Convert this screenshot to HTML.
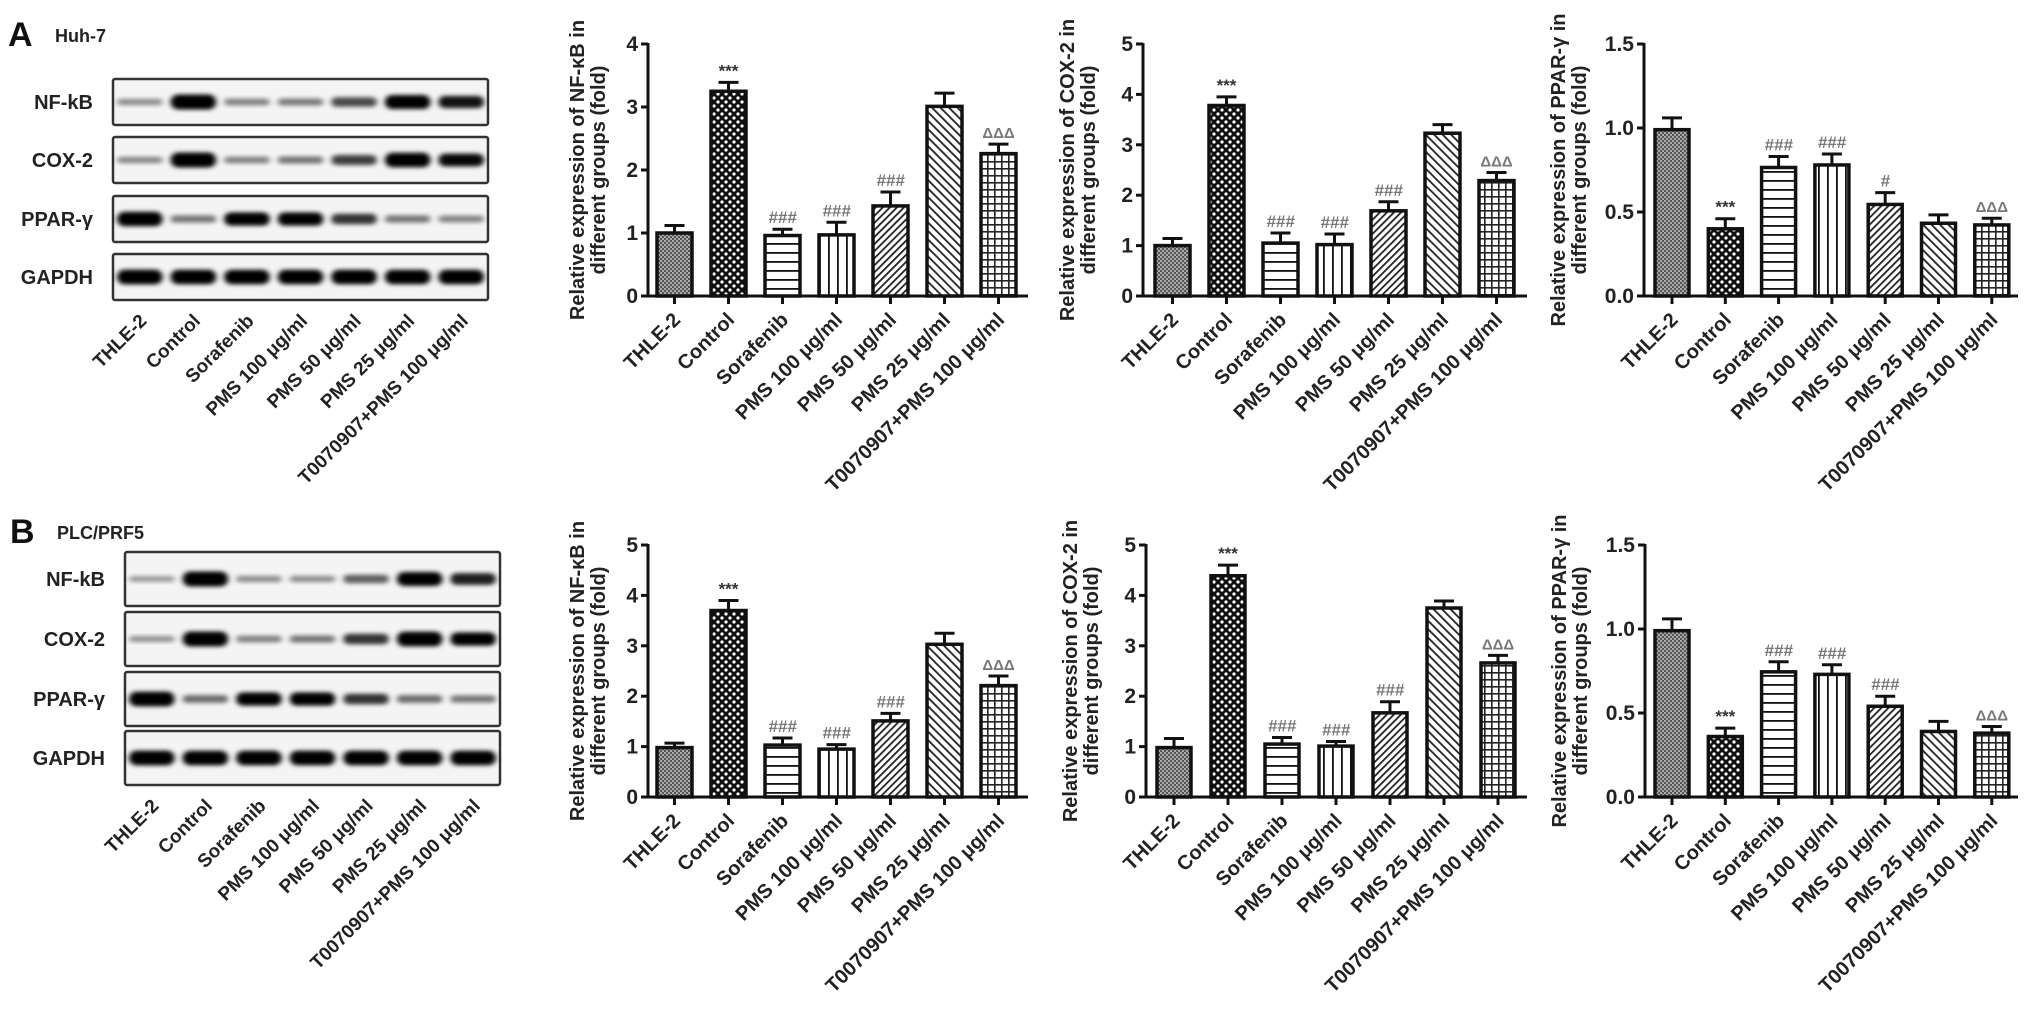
<!DOCTYPE html>
<html><head><meta charset="utf-8"><style>
html,body{margin:0;padding:0;background:#fff;}
svg{display:block;font-family:"Liberation Sans",Arial,sans-serif;}
</style></head><body>
<svg id="fig" width="2031" height="1011" viewBox="0 0 2031 1011" xmlns="http://www.w3.org/2000/svg">
<defs>
 <filter id="blur" x="-20%" y="-50%" width="140%" height="200%"><feGaussianBlur stdDeviation="3 2.2"/></filter>
 <pattern id="p0" patternUnits="userSpaceOnUse" width="4" height="4"><rect width="4" height="4" fill="#555"/><rect x="0" y="0" width="2" height="2" fill="#aaa"/><rect x="2" y="2" width="2" height="2" fill="#aaa"/></pattern>
 <pattern id="p1" patternUnits="userSpaceOnUse" width="8" height="8"><rect width="8" height="8" fill="#111"/><circle cx="2" cy="2" r="1.6" fill="#fff"/><circle cx="6" cy="6" r="1.6" fill="#fff"/></pattern>
 <pattern id="p2" patternUnits="userSpaceOnUse" width="8" height="9"><rect width="8" height="9" fill="#fff"/><rect y="0" width="8" height="1.8" fill="#111"/></pattern>
 <pattern id="p3" patternUnits="userSpaceOnUse" width="9" height="8"><rect width="9" height="8" fill="#fff"/><rect x="0" width="1.8" height="8" fill="#111"/></pattern>
 <pattern id="p4" patternUnits="userSpaceOnUse" width="5" height="5" patternTransform="rotate(45)"><rect width="5" height="5" fill="#fff"/><rect width="1.8" height="5" fill="#222"/></pattern>
 <pattern id="p5" patternUnits="userSpaceOnUse" width="6" height="6" patternTransform="rotate(-45)"><rect width="6" height="6" fill="#fff"/><rect width="1.8" height="6" fill="#222"/></pattern>
 <pattern id="p6" patternUnits="userSpaceOnUse" width="7" height="7"><rect width="7" height="7" fill="#fff"/><rect width="7" height="1.6" fill="#222"/><rect width="1.6" height="7" fill="#222"/></pattern>
</defs>
<g id="root"></g>
</svg>
<script>
const categories = ["THLE-2","Control","Sorafenib","PMS 100 μg/ml","PMS 50 μg/ml","PMS 25 μg/ml","T0070907+PMS 100 μg/ml"];
// Panel A (Huh-7)
const nfkbA = [1.0,3.25,0.96,0.97,1.43,3.01,2.26];
const nfkbAErr = [0.12,0.14,0.1,0.2,0.22,0.21,0.15];
const coxA = [1.0,3.78,1.05,1.02,1.69,3.23,2.29];
const coxAErr = [0.14,0.17,0.2,0.21,0.18,0.17,0.16];
const pparA = [0.99,0.40,0.765,0.78,0.545,0.433,0.423];
const pparAErr = [0.07,0.06,0.065,0.065,0.07,0.05,0.04];
// Panel B (PLC/PRF5)
const nfkbB = [0.98,3.7,1.03,0.95,1.51,3.03,2.21];
const nfkbBErr = [0.09,0.2,0.14,0.09,0.15,0.22,0.19];
const coxB = [0.98,4.39,1.05,1.01,1.67,3.75,2.66];
const coxBErr = [0.18,0.21,0.13,0.09,0.22,0.14,0.15];
const pparB = [0.99,0.36,0.745,0.73,0.54,0.39,0.38];
const pparBErr = [0.07,0.05,0.06,0.057,0.06,0.06,0.04];
const marksNF = ["","***","###","###","###","","ΔΔΔ"];
const marksCOX = ["","***","###","###","###","","ΔΔΔ"];
const marksPPAR_A = ["","***","###","###","#","","ΔΔΔ"];
const marksPPAR_B = ["","***","###","###","###","","ΔΔΔ"];
const ticks5 = [0,1,2,3,4,5];
const ticks4 = [0,1,2,3,4];
const ticksP = [0,0.5,1.0,1.5];
const ticksPLabels = ["0.0","0.5","1.0","1.5"];
const blotRowsLabels = ["NF-kB","COX-2","PPAR-γ","GAPDH"];
const blotA = [[0.2,1,0.25,0.28,0.5,0.92,0.75],[0.22,1,0.25,0.3,0.55,0.95,0.8],[0.95,0.3,0.85,0.85,0.6,0.3,0.25],[0.97,0.95,0.95,0.95,0.95,0.95,0.95]];
const blotB = [[0.15,1,0.2,0.2,0.4,0.9,0.7],[0.18,1,0.25,0.3,0.6,0.98,0.85],[0.97,0.35,0.85,0.85,0.6,0.35,0.3],[0.97,0.95,0.95,0.95,0.95,0.95,0.95]];

const NS="http://www.w3.org/2000/svg";
const root=document.getElementById('root');
function el(tag,attrs,parent,txt){const e=document.createElementNS(NS,tag);for(const k in attrs)e.setAttribute(k,attrs[k]);if(txt!==undefined)e.textContent=txt;(parent||root).appendChild(e);return e;}

function chart(cfg){
  const g=el('g',{});
  
  
  const ys=v=>cfg.y0-(v-cfg.min)/(cfg.max-cfg.min)*(cfg.y0-cfg.ytop);
  const xs=i=>cfg.bx+i*cfg.step;
  const ya=el('line',{x1:cfg.ax,y1:cfg.ytop-1,x2:cfg.ax,y2:cfg.y0+1.5,stroke:'#111','stroke-width':3},g);
  
  
  const xa=el('line',{x1:cfg.ax-1.5,y1:cfg.y0,x2:cfg.xend,y2:cfg.y0,stroke:'#111','stroke-width':3},g);
  
  
  cfg.ticks.forEach((t,i)=>{
    const y=ys(t);
    el('line',{x1:cfg.ax-7,y1:y,x2:cfg.ax,y2:y,stroke:'#111','stroke-width':3},g);
    const tl=el('text',{x:cfg.ax-10,y:y+7,'text-anchor':'end','font-size':21,'font-weight':'bold',fill:'#222'},g,cfg.tickLabels?cfg.tickLabels[i]:String(t));
    
    
  });
  const tx=cfg.ax-cfg.titleOff, ty=(cfg.ytop+cfg.y0)/2+(cfg.titleDy||0);
  const t1=el('text',{x:tx,y:ty,'text-anchor':'middle','font-size':20,'font-weight':'bold',fill:'#222',transform:`rotate(-90 ${tx} ${ty})`},g,cfg.title1);
  
  
  const t2=el('text',{x:tx+21,y:ty,'text-anchor':'middle','font-size':20,'font-weight':'bold',fill:'#222',transform:`rotate(-90 ${tx+21} ${ty})`},g,"different groups (fold)");
  
  
  cfg.values.forEach((v,i)=>{
    const x=xs(i), topY=ys(v), cx=x+cfg.bw/2, et=ys(v+cfg.errs[i]);
    el('line',{x1:cx,y1:topY,x2:cx,y2:et,stroke:'#111','stroke-width':3},g);
    el('line',{x1:cx-10,y1:et,x2:cx+10,y2:et,stroke:'#111','stroke-width':3},g);
    const r=el('rect',{x:x,y:topY,width:cfg.bw,height:cfg.y0-topY,fill:`url(#p${i})`,stroke:'#111','stroke-width':3.5},g);
    
    
    el('line',{x1:cx,y1:cfg.y0,x2:cx,y2:cfg.y0+8,stroke:'#111','stroke-width':3},g);
    if(cfg.marks[i]){
      const m=cfg.marks[i];
      const mt=el('text',{x:cx,y:et-6,'text-anchor':'middle','font-size':m==='ΔΔΔ'?15:17,'font-weight':'bold','font-style':m[0]==='#'?'italic':'normal',fill:m==='***'?'#333':'#777'},g,m);
      
      
    }
    const lx=cx+7, ly=cfg.y0+25;
    const xl=el('text',{x:lx,y:ly,'text-anchor':'end','font-size':20,'font-weight':'bold',fill:'#222',transform:`rotate(-45 ${lx} ${ly})`},g,categories[i]);
    
    
  });
}

function blot(cfg){
  const g=el('g',{});
  
  
  const pl=el('text',{x:cfg.lx,y:cfg.ly,'font-size':34,'font-weight':'bold',fill:'#111'},g,cfg.letter);
  
  
  const cl=el('text',{x:cfg.lx+47,y:cfg.ly-4,'font-size':18,'font-weight':'bold',fill:'#222'},g,cfg.cell);
  
  
  const lw=(cfg.x1-cfg.x0)/7;
  cfg.rows.forEach((row,r)=>{
    const y=cfg.rowY[r], h=cfg.rowH;
    const b=el('rect',{x:cfg.x0,y:y,width:cfg.x1-cfg.x0,height:h,fill:'#f4f4f4',stroke:'#333','stroke-width':2.5,rx:2},g);
    
    
    row.forEach((v,i)=>{
      const cx=cfg.x0+lw*(i+0.5);
      const bh=4+v*11, bwid=lw*0.85;
      el('rect',{x:cx-bwid/2,y:y+h/2-bh/2,width:bwid,height:bh,rx:bh/2,fill:'#000','fill-opacity':Math.min(1,0.25+v*0.9),filter:'url(#blur)'},g);
    });
    const rl=el('text',{x:cfg.x0-20,y:y+h/2+7,'text-anchor':'end','font-size':20,'font-weight':'bold',fill:'#222'},g,blotRowsLabels[r]);
    
    
  });
  const by=cfg.rowY[3]+cfg.rowH;
  categories.forEach((c,i)=>{
    const lx=cfg.x0+lw*(i+0.5)+8, ly=by+22;
    const t=el('text',{x:lx,y:ly,'text-anchor':'end','font-size':19,'font-weight':'bold',fill:'#222',transform:`rotate(-45 ${lx} ${ly})`},g,c);
    
    
  });
}

blot({name:'blot-panel-a',letter:'A',cell:'Huh-7',lx:8,ly:46,x0:113,x1:488,rowY:[79,137,196,254],rowH:46,rows:blotA});
blot({name:'blot-panel-b',letter:'B',cell:'PLC/PRF5',lx:10,ly:543,x0:125,x1:500,rowY:[552,612,672,731],rowH:54,rows:blotB});

const rowTop={y0:296,ytop:44}, rowBot={y0:797,ytop:545};
chart({name:'chart-a-nfkb',...rowTop,min:0,max:4,ticks:ticks4,ax:648,bx:657,step:54,bw:35,xend:1028,values:nfkbA,errs:nfkbAErr,marks:marksNF,title1:'Relative  expression of NF-κB in',titleOff:64});
chart({name:'chart-a-cox2',...rowTop,min:0,max:5,ticks:ticks5,ax:1143,bx:1155,step:54,bw:35,xend:1527,values:coxA,errs:coxAErr,marks:marksCOX,title1:'Relative expression of COX-2 in',titleOff:69});
chart({name:'chart-a-ppar',...rowTop,min:0,max:1.5,ticks:ticksP,tickLabels:ticksPLabels,ax:1644,bx:1655,step:53.3,bw:34,xend:2018,values:pparA,errs:pparAErr,marks:marksPPAR_A,title1:'Relative expression of PPAR-γ in',titleOff:79});
chart({name:'chart-b-nfkb',...rowBot,min:0,max:5,ticks:ticks5,ax:648,bx:657,step:54,bw:35,xend:1028,values:nfkbB,errs:nfkbBErr,marks:marksNF,title1:'Relative  expression of NF-κB in',titleOff:64});
chart({name:'chart-b-cox2',...rowBot,min:0,max:5,ticks:ticks5,ax:1146,bx:1157,step:54,bw:34,xend:1527,values:coxB,errs:coxBErr,marks:marksCOX,title1:'Relative expression of COX-2 in',titleOff:69});
chart({name:'chart-b-ppar',...rowBot,min:0,max:1.5,ticks:ticksP,tickLabels:ticksPLabels,ax:1645,bx:1655,step:53.3,bw:34,xend:2018,values:pparB,errs:pparBErr,marks:marksPPAR_B,title1:'Relative expression of PPAR-γ in',titleOff:79});
</script>
</body></html>
